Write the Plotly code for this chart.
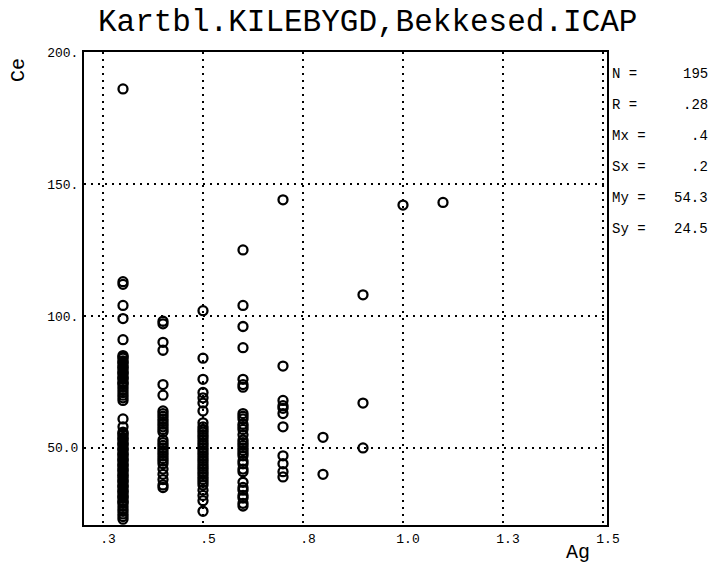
import plotly.graph_objects as go

# Ag levels (x) and the Ce readings (y) found at each level
ag_levels = [0.3, 0.4, 0.5, 0.6, 0.7, 0.8, 0.9, 1.0, 1.1]

ce_ag03 = [186, 113, 112, 104, 99, 91,
           85, 84.5, 84, 83, 82.5, 82, 81, 80.5, 80, 79, 78.5, 78, 77, 76.5,
           76, 75, 74.5, 74, 73, 72, 71, 70, 69, 68,
           61, 58,
           56, 55.5, 55, 54, 53.5, 53, 52, 51.5, 51, 50, 49.5, 49, 48, 47.5,
           47, 46, 45.5, 45, 44, 43.5, 43, 42, 41.5, 41, 40, 39.5, 39, 38,
           37.5, 37, 36, 35.5, 35, 34, 33.5, 33, 32, 31.5, 31, 30, 29.5, 29,
           28, 27, 26, 25, 24, 23]
ce_ag04 = [98, 97, 90, 87, 74, 70, 64, 63, 62, 61, 60, 59, 58, 57, 56,
           53, 52, 51, 50, 49, 48, 47, 46, 45, 44, 42, 40, 38, 36, 35]
ce_ag05 = [102, 84, 76, 71, 69, 67, 64, 59.5, 58, 57, 56, 55, 54, 53, 52,
           51, 50, 49, 48, 47, 46, 45, 44, 43, 42, 41, 40, 39, 38, 37, 36,
           34, 32, 30, 26]
ce_ag06 = [125, 104, 96, 88, 76, 74, 73, 63, 62, 61, 59, 58, 57, 55, 53,
           52, 51, 50, 49, 48, 47, 45, 44, 42, 41, 37, 35, 34, 32, 31, 29, 28]
ce_ag07 = [144, 81, 68, 66, 65, 63, 58, 47, 44, 41, 39]
ce_ag08 = [54, 40]
ce_ag09 = [108, 67, 50]
ce_ag10 = [142]
ce_ag11 = [143]

ce_columns = [ce_ag03, ce_ag04, ce_ag05, ce_ag06, ce_ag07,
              ce_ag08, ce_ag09, ce_ag10, ce_ag11]

x_tick_vals = [0.25, 0.5, 0.75, 1.0, 1.25, 1.5]
x_tick_text = [".3", ".5", ".8", "1.0", "1.3", "1.5"]
y_tick_vals = [50, 100, 150, 200]
y_tick_text = ["50.0", "100.", "150.", "200."]

stat_names = ["N =", "R =", "Mx =", "Sx =", "My =", "Sy ="]
stat_values = ["195", ".28", ".4", ".2", "54.3", "24.5"]

title_text = "Kartbl.KILEBYGD,Bekkesed.ICAP"

xs, ys = [], []
for ag, col in zip(ag_levels, ce_columns):
    xs.extend([ag] * len(col))
    ys.extend(col)

W, H = 714, 571
L, R, T, B = 84, 107, 52, 46
plot_w = W - L - R
plot_h = H - T - B

MONO = "Liberation Mono, DejaVu Sans Mono, monospace"

fig = go.Figure()
fig.add_trace(go.Scatter(
    x=xs, y=ys, mode="markers",
    marker=dict(symbol="circle-open", size=9, color="black",
                line=dict(width=2.3, color="black")),
    showlegend=False, hoverinfo="x+y",
))

grid_common = dict(
    showgrid=True, gridcolor="black", gridwidth=1.6, griddash="2px,5px",
    zeroline=False, showline=True, linecolor="black", linewidth=2,
    mirror=True, ticks="", tickfont=dict(family=MONO, size=13, color="black"),
)

fig.update_xaxes(range=[0.2025, 1.51], tickvals=x_tick_vals,
                 ticktext=x_tick_text, ticklabelshift=5,
                 ticklabelstandoff=0, **grid_common)
fig.update_yaxes(range=[20.8, 200], tickvals=y_tick_vals,
                 ticktext=y_tick_text, ticklabelstandoff=1, **grid_common)

annotations = []
row_top = 74
row_gap = 31
for i, (name, val) in enumerate(zip(stat_names, stat_values)):
    py = row_top + i * row_gap
    yp = (H - B - py) / plot_h
    annotations.append(dict(xref="paper", yref="paper", x=(610 - L) / plot_w,
                            y=yp, text=name, showarrow=False, xanchor="left",
                            yanchor="middle",
                            font=dict(family=MONO, size=14, color="black")))
    annotations.append(dict(xref="paper", yref="paper", x=(710 - L) / plot_w,
                            y=yp, text=val, showarrow=False, xanchor="right",
                            yanchor="middle",
                            font=dict(family=MONO, size=14, color="black")))

# axis names
annotations.append(dict(xref="paper", yref="paper",
                        x=(18 - L) / plot_w, y=(H - B - 70) / plot_h,
                        text="Ce", textangle=-90, showarrow=False,
                        xanchor="center", yanchor="middle",
                        font=dict(family=MONO, size=20, color="black")))
annotations.append(dict(xref="paper", yref="paper",
                        x=(578 - L) / plot_w, y=(H - B - 552) / plot_h,
                        text="Ag", showarrow=False,
                        xanchor="center", yanchor="middle",
                        font=dict(family=MONO, size=20, color="black")))

fig.update_layout(
    width=W, height=H,
    margin=dict(l=L, r=R, t=T, b=B),
    paper_bgcolor="white", plot_bgcolor="white",
    title=dict(text=title_text, xref="container", yref="container",
               x=0.515, y=1 - 20 / H, xanchor="center", yanchor="middle",
               font=dict(family=MONO, size=31, color="black")),
    annotations=annotations,
)

fig.write_html("out.html")
